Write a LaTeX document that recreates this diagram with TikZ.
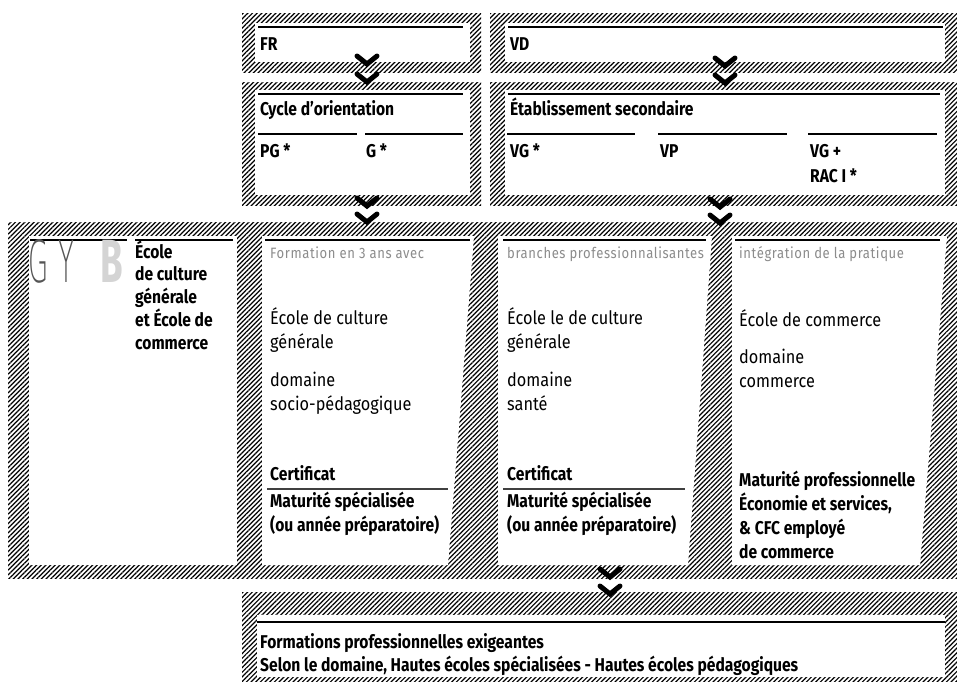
\documentclass[tikz,border=0pt]{standalone}
\usepackage{fontspec}
\setmainfont{Fira Sans}[FakeStretch=0.88,BoldFeatures={FakeStretch=0.845}]
\newfontfamily\notefont{Fira Sans}[FakeStretch=0.87,LetterSpace=4]
\newfontfamily\bfont{Fira Sans}[FakeStretch=0.6]
\IfFontExistsTF{DejaVu Sans ExtraLight}
  {\newfontfamily\gyfont{DejaVu Sans ExtraLight}[FakeStretch=0.45,LetterSpace=20]}
  {\newfontfamily\gyfont{Fira Sans}[FakeStretch=0.55,LetterSpace=20]}
\usetikzlibrary{patterns.meta}
\definecolor{notegray}{RGB}{140,140,140}
\definecolor{gydark}{RGB}{85,85,85}
\definecolor{gylight}{RGB}{212,212,212}

\begin{document}
\begin{tikzpicture}[x=1pt,y=-1pt,
  hatch/.style={pattern={Lines[angle=45,distance=3.3pt,line width=1.2pt]}},
  panel/.style={fill=white},
  rule/.style={line width=1.3pt},
  certrule/.style={line width=1.3pt,draw=black!75},
  lbl/.style={anchor=base west,inner sep=0pt,align=left,font=\fontsize{18.5}{24}\selectfont},
  bold/.style={lbl,font=\fontsize{18.5}{24}\selectfont\bfseries},
  note/.style={lbl,font=\notefont\fontsize{15}{16}\selectfont,text=notegray},
  chev/.style={line width=5pt,line cap=round,line join=miter}
]
\useasboundingbox (0,0) rectangle (957,681);
% hatched frames
\fill[hatch] (242,13) rectangle (481,72);
\fill[hatch] (490,13) rectangle (957,72);
\fill[hatch] (242,82) rectangle (481,205);
\fill[hatch] (490,82) rectangle (957,205);
\fill[hatch] (8,222) rectangle (957,578);
\fill[hatch] (242,592) rectangle (957,681);
% white panels
\fill[panel] (255,23) rectangle (470,62);
\fill[panel] (505,23) rectangle (945,62);
\fill[panel] (255,90) rectangle (470,195);
\fill[panel] (505,90) rectangle (945,195);
\fill[panel] (29,236) rectangle (237,565);
\fill[panel] (262,236) -- (474,236) -- (448,565) -- (262,565) -- cycle;
\fill[panel] (498,236) -- (712,236) -- (688,565) -- (498,565) -- cycle;
\fill[panel] (732,236) -- (947,236) -- (920,565) -- (732,565) -- cycle;
\fill[panel] (257,615) rectangle (945,677);

% FR / VD
\draw[rule] (258,27) -- (463,27);
\draw[rule] (508,27) -- (943,27);
\node[bold] (fr) at (260,50) {FR};
\node[bold] (vd) at (510,50) {VD};

% Cycle d'orientation
\draw[rule] (258,94) -- (463,94);
\draw[rule] (258,134) -- (357,134);
\draw[rule] (365,134) -- (463,134);
\node[bold] (cycle) at (260,115) {Cycle d’orientation};
\node[bold] (pg) at (260,157) {PG *};
\node[bold] (g) at (366,157) {G *};

% Etablissement secondaire
\draw[rule] (508,94) -- (940,94);
\draw[rule] (507,134) -- (635,134);
\draw[rule] (658,134) -- (787,134);
\draw[rule] (808,134) -- (937,134);
\node[bold] (etab) at (510,115) {Établissement secondaire};
\node[bold] (vg) at (510,157) {VG *};
\node[bold] (vp) at (660,157) {VP};
\node[bold,font=\fontsize{18.5}{25}\selectfont\bfseries] (vgrac) at (810,182) {VG +\\RAC I *};

% GYB
\draw[rule] (30,240) -- (127,240);
\draw[rule] (135,240) -- (233,240);
\node[lbl,font=\gyfont\fontsize{58}{58}\selectfont,text=gydark] (gy) at (28,282) {GY};
\node[lbl,font=\bfont\bfseries\fontsize{61}{61}\selectfont,text=gylight] (gyb) at (100,282) {B};
\node[bold,font=\fontsize{18.5}{22.7}\selectfont\bfseries] (ecg) at (135,349)
  {École\\de culture\\générale\\et École de\\commerce};

% column 1
\draw[rule] (265,240) -- (470,240);
\draw[certrule] (267,489) -- (448,489);
\node[note] (c1note) at (270,258) {Formation en 3 ans avec};
\node[lbl] (c1ecole) at (270,348) {École de culture\\générale};
\node[lbl] (c1dom) at (270,410) {domaine\\socio-pédagogique};
\node[bold] (c1cert) at (270,480) {Certificat};
\node[bold] (c1mat) at (270,531) {Maturité spécialisée\\(ou année préparatoire)};

% column 2
\draw[rule] (503,240) -- (706,240);
\draw[certrule] (503,489) -- (685,489);
\node[note] (c2note) at (507,258) {branches professionnalisantes};
\node[lbl] (c2ecole) at (507,348) {École le de culture\\générale};
\node[lbl] (c2dom) at (507,410) {domaine\\santé};
\node[bold] (c2cert) at (507,480) {Certificat};
\node[bold] (c2mat) at (507,531) {Maturité spécialisée\\(ou année préparatoire)};

% column 3
\draw[rule] (735,240) -- (940,240);
\node[note] (c3note) at (739,258) {intégration de la pratique};
\node[lbl] (c3ecole) at (739,326) {École de commerce};
\node[lbl] (c3dom) at (739,387) {domaine\\commerce};
\node[bold] (c3mat) at (739,558) {Maturité professionnelle\\Économie et services,\\\& CFC employé\\de commerce};

% Formations exigeantes
\draw[rule] (257,622) -- (945,622);
\node[bold,font=\fontsize{18.5}{23}\selectfont\bfseries] (hes) at (260,671)
  {Formations professionnelles exigeantes\\Selon le domaine, Hautes écoles spécialisées - Hautes écoles pédagogiques};

% chevrons
\coordinate (ch1) at (367,64);  \coordinate (ch2) at (367,82);
\coordinate (ch3) at (725,66);  \coordinate (ch4) at (725,83);
\coordinate (ch5) at (367,206); \coordinate (ch6) at (367,222);
\coordinate (ch7) at (720,207); \coordinate (ch8) at (720,223);
\coordinate (ch9) at (610,577); \coordinate (ch10) at (610,594);
\foreach \c in {ch1,ch2,ch3,ch4,ch5,ch6,ch7,ch8,ch9,ch10}
  \draw[chev] (\c) ++(-10,-8) -- (\c) -- ++(10,-8);
\end{tikzpicture}
\end{document}
